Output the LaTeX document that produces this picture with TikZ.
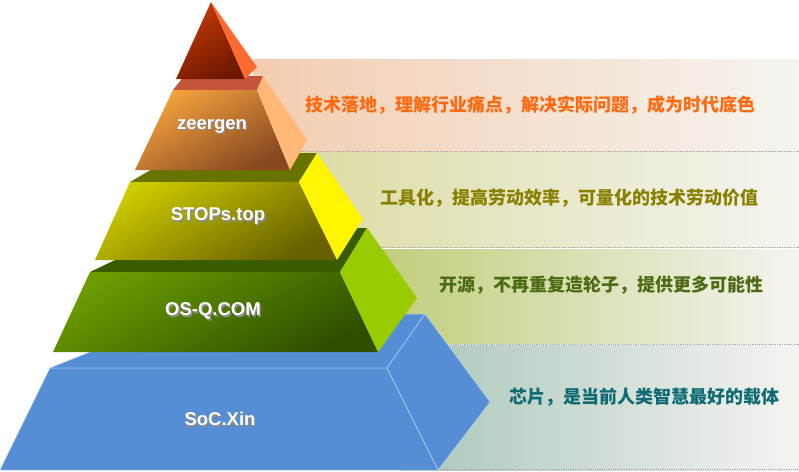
\documentclass[tikz,border=0pt]{standalone}
\usepackage{fontspec}
\setmainfont{Liberation Sans}
\newfontfamily\cjk{Noto Sans CJK SC}
\usepackage{tikz}
\usetikzlibrary{positioning}
\definecolor{apexfront}{HTML}{C43A06}
\definecolor{apexdark}{HTML}{6E1800}
\definecolor{apexside}{HTML}{FF6A30}
\definecolor{zeertop}{HTML}{C4553A}
\definecolor{zeerfront}{HTML}{F5A23E}
\definecolor{zeerdark}{HTML}{874820}
\definecolor{zeerside}{HTML}{FFB878}
\definecolor{stopstop}{HTML}{687300}
\definecolor{stopsfront}{HTML}{CCCC00}
\definecolor{stopsdark}{HTML}{685F00}
\definecolor{stopsside}{HTML}{FFF500}
\definecolor{osqtop}{HTML}{3A5C00}
\definecolor{osqfront}{HTML}{6A9C00}
\definecolor{osqdark}{HTML}{2E4F00}
\definecolor{osqside}{HTML}{99CC00}
\definecolor{socfill}{HTML}{558ED5}
\definecolor{socedge}{HTML}{B4D0F2}
\definecolor{bandwhite}{HTML}{F5F4F0}
\definecolor{zeerband}{HTML}{F3CDB0}
\definecolor{stopsband}{HTML}{DCDCA4}
\definecolor{osqband}{HTML}{BCCB72}
\definecolor{socband}{HTML}{A9C7B9}
\definecolor{zeertext}{HTML}{FF6A10}
\definecolor{stopstext}{HTML}{8A8000}
\definecolor{osqtext}{HTML}{4B6B14}
\definecolor{soctext}{HTML}{0E6B74}
\newcommand{\tiername}[1]{\rlap{\kern1.3pt\raisebox{-1.3pt}{\color{black!45}#1}}#1}
\tikzset{
    every picture/.style={line width=0.5pt},
    band/.style={left color=#1, right color=bandwhite},
    bandline/.style={gray!70, densely dotted, line width=0.8pt},
    face/.style 2 args={top color=#1, bottom color=#2, shading angle=30}
}

\begin{document}
\begin{tikzpicture}[x=1pt, y=-1pt,
        tier/.style={text=white, font=\bfseries\fontsize{18.5}{20}\selectfont},
        bandtext/.style={anchor=west, font=\cjk\bfseries\fontsize{18}{20}\selectfont}]
    \useasboundingbox (0,0) rectangle (799,471);

    % bands behind the pyramid
    \path[band=zeerband] (253,59) rectangle (799,151);
    \path[band=stopsband] (300,152) rectangle (799,247);
    \path[band=osqband] (345,249) rectangle (799,343);
    \path[band=socband] (400,345) rectangle (799,470);
    \foreach \y in {151,247,344,469}
        \draw[bandline] (253,\y) -- (799,\y);

    % SoC.Xin
    \filldraw[fill=socfill, draw=socedge] (50,368) -- (185,314) -- (425,314) -- (387,368) -- cycle;
    \filldraw[fill=socfill, draw=socedge] (425,314) -- (490,402) -- (438,470) -- (387,368) -- cycle;
    \filldraw[fill=socfill, draw=socedge] (50,368) -- (387,368) -- (438,470) -- (0,470) -- cycle;

    % OS-Q.COM
    \fill[osqtop] (90,272) -- (182,228) -- (367,228) -- (340,272) -- cycle;
    \path[face={osqfront}{osqdark}] (90,272) -- (340,272) -- (378,352) -- (53,352) -- cycle;
    \fill[osqside] (367,228) -- (417,298) -- (378,352) -- (340,272) -- cycle;

    % STOPs.top
    \fill[stopstop] (130,182) -- (180,153) -- (317,153) -- (299,182) -- cycle;
    \path[face={stopsfront}{stopsdark}] (130,182) -- (299,182) -- (337,260) -- (95,260) -- cycle;
    \fill[stopsside] (317,153) -- (363,219) -- (337,260) -- (299,182) -- cycle;

    % zeergen
    \fill[zeertop] (173,90) -- (184,76) -- (263,76) -- (257,90) -- cycle;
    \path[face={zeerfront}{zeerdark}] (173,90) -- (257,90) -- (290,170) -- (135,170) -- cycle;
    \fill[zeerside] (263,76) -- (307,140) -- (290,170) -- (257,90) -- cycle;

    % apex
    \path[face={apexfront}{apexdark}] (211,2) -- (245,79) -- (176,79) -- cycle;
    \fill[apexside] (211,2) -- (257,67) -- (245,79) -- cycle;

    % tier names
    \node[tier] (socxin)  at (220,420) {\tiername{SoC.Xin}};
    \node[tier] (osq)     at (213,312) {\tiername{OS-Q.COM}};
    \node[tier] (stops)   at (218,217) {\tiername{STOPs.top}};
    \node[tier] (zeergen) at (212,127) {\tiername{zeergen}};

    % band texts
    \node[bandtext, text=zeertext]  (tzeer)  at (302,105) {技术落地，理解行业痛点，解决实际问题，成为时代底色};
    \node[bandtext, text=stopstext] (tstops) at (377,198) {工具化，提高劳动效率，可量化的技术劳动价值};
    \node[bandtext, text=osqtext]   (tosq)   at (436,285) {开源，不再重复造轮子，提供更多可能性};
    \node[bandtext, text=soctext]   (tsoc)   at (506,397) {芯片，是当前人类智慧最好的载体};
\end{tikzpicture}
\end{document}
